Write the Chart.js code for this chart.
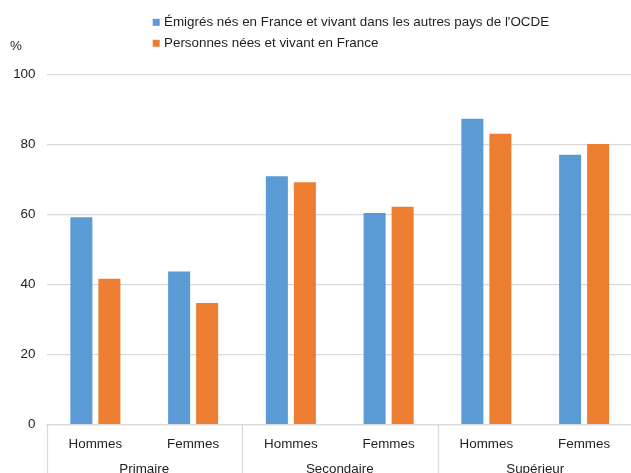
<!DOCTYPE html>
<html lang="fr">
<head>
<meta charset="utf-8">
<script src="https://cdn.jsdelivr.net/npm/chart.js@4/dist/chart.umd.min.js"></script>
<style>
  html, body { margin: 0; padding: 0; overflow: hidden; background: #fff; }
  #box { width: 633px; height: 473px; }
</style>
</head>
<body>
<div id="box"><canvas id="graphique"></canvas></div>
<script>
// Données
const categories = ['Hommes', 'Femmes', 'Hommes', 'Femmes', 'Hommes', 'Femmes'];
const groupes = ['Primaire', 'Secondaire', 'Supérieur'];
const emigres = [59.3, 43.8, 71.0, 60.5, 87.4, 77.1];
const residents = [41.7, 34.8, 69.3, 62.3, 83.1, 80.2];
const nomsSeries = [
  "Émigrés nés en France et vivant dans les autres pays de l'OCDE",
  'Personnes nées et vivant en France'
];
const ticksY = [0, 20, 40, 60, 80, 100];

const couleurs = ['#5b9bd5', '#ed7d31'];
const police = '13.4px "Liberation Sans", Arial, sans-serif';
const gris = '#d9d9d9';
const texte = '#1f1f1f';

// Légende, unité et groupes dessinés à la main
const decor = {
  id: 'decor',
  afterDraw(chart) {
    const ctx = chart.ctx;
    const x = chart.scales.x;
    const area = chart.chartArea;
    ctx.save();
    ctx.font = police;
    ctx.fillStyle = texte;
    ctx.textBaseline = 'middle';

    // légende
    nomsSeries.forEach((nom, i) => {
      const y = 22.3 + i * 21;
      ctx.fillStyle = couleurs[i];
      ctx.fillRect(152.7, y - 3.5, 7, 7);
      ctx.fillStyle = texte;
      ctx.textAlign = 'left';
      ctx.fillText(nom, 164, y);
    });

    // unité
    ctx.fillText('%', 10, 46);

    // séparateurs et noms des groupes
    const larg = (x.right - x.left) / categories.length;
    ctx.strokeStyle = gris;
    ctx.lineWidth = 1.25;
    for (let g = 0; g <= groupes.length; g++) {
      const xs = Math.round(x.left + g * 2 * larg) + 0.5;
      ctx.beginPath();
      ctx.moveTo(xs, area.bottom);
      ctx.lineTo(xs, chart.height);
      ctx.stroke();
    }
    ctx.textAlign = 'center';
    ctx.textBaseline = 'alphabetic';
    groupes.forEach((g, i) => {
      ctx.fillText(g, x.left + (2 * i + 1) * larg, 473);
    });
    ctx.restore();
  }
};

new Chart(document.getElementById('graphique'), {
  type: 'bar',
  data: {
    labels: categories,
    datasets: [
      { label: nomsSeries[0], data: emigres, backgroundColor: couleurs[0] },
      { label: nomsSeries[1], data: residents, backgroundColor: couleurs[1] }
    ]
  },
  options: {
    responsive: true,
    maintainAspectRatio: false,
    animation: false,
    devicePixelRatio: 1,
    categoryPercentage: 0.573,
    barPercentage: 0.786,
    layout: { padding: { top: 74.7, left: 0, right: 0, bottom: 0 } },
    plugins: {
      legend: { display: false },
      tooltip: { enabled: false }
    },
    scales: {
      x: {
        grid: { display: false },
        border: { display: true, color: gris, width: 1.25 },
        ticks: { color: texte, font: { family: '"Liberation Sans", Arial, sans-serif', size: 13.4 }, padding: 4, maxRotation: 0 },
        afterFit(scale) { scale.height = 48.3; }
      },
      y: {
        min: 0,
        max: 100,
        afterBuildTicks(scale) { scale.ticks = ticksY.map(v => ({ value: v })); },
        grid: { color: gris, lineWidth: 1.25, drawTicks: false },
        border: { display: false },
        ticks: { color: texte, font: { family: '"Liberation Sans", Arial, sans-serif', size: 13.4 }, padding: 11 },
        afterFit(scale) { scale.width = 46.5; }
      }
    }
  },
  plugins: [decor]
});
</script>
</body>
</html>
